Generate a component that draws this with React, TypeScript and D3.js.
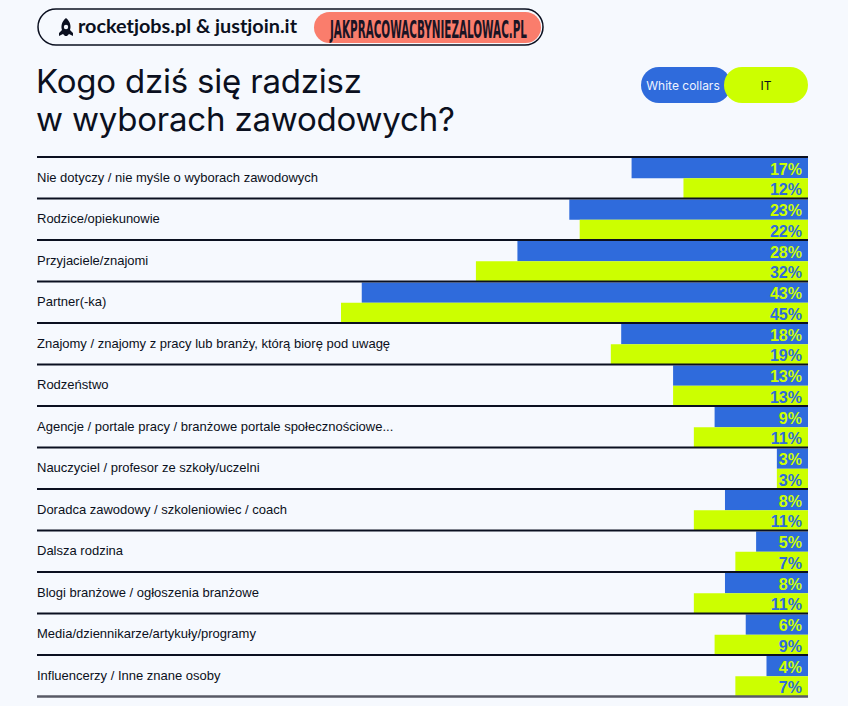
import React from "react";
import * as d3 from "d3";

const categories = [
  "Nie dotyczy / nie myśle o wyborach zawodowych",
  "Rodzice/opiekunowie",
  "Przyjaciele/znajomi",
  "Partner(-ka)",
  "Znajomy / znajomy z pracy lub branży, którą biorę pod uwagę",
  "Rodzeństwo",
  "Agencje / portale pracy / branżowe portale społecznościowe...",
  "Nauczyciel / profesor ze szkoły/uczelni",
  "Doradca zawodowy / szkoleniowiec / coach",
  "Dalsza rodzina",
  "Blogi branżowe / ogłoszenia branżowe",
  "Media/dziennikarze/artykuły/programy",
  "Influencerzy / Inne znane osoby",
];
const whiteCollars = [17, 23, 28, 43, 18, 13, 9, 3, 8, 5, 8, 6, 4];
const itValues = [12, 22, 32, 45, 19, 13, 11, 3, 11, 7, 11, 9, 7];
const seriesNames = ["White collars", "IT"];

const W = 848;
const H = 706;
const BG = "#f6f9fe";
const BLUE = "#2f6bdc";
const GREEN = "#ccff00";
const DARK = "#0b1020";

const left = 37;
const right = 808;
const top = 157;
const rowH = 41.5;

export default function App() {
  const x = d3.scaleLinear().domain([0, 45]).range([0, 467]);
  const y = d3
    .scaleBand<number>()
    .domain(d3.range(categories.length))
    .range([top, top + rowH * categories.length])
    .paddingInner(0)
    .paddingOuter(0);

  return (
    <svg
      width={W}
      height={H}
      style={{ position: "absolute", left: 0, top: 0, display: "block" }}
    >
      <rect width={W} height={H} fill={BG} />

      {/* Header pill */}
      <rect x={38} y={9} width={505} height={36} rx={18} fill="none" stroke={DARK} strokeWidth={1.5} />
      <g transform="translate(58,18)" fill={DARK}>
        <path d="M8 0 C3 4 3 9 4 12 L1 15 L1 18 L5 16 L7 18 L9 18 L11 16 L15 18 L15 15 L12 12 C13 9 13 4 8 0 Z" />
        <circle cx={8} cy={9} r={2.2} fill={BG} />
      </g>
      <text
        x={78}
        y={33}
        textLength={219}
        lengthAdjust="spacingAndGlyphs"
        fontFamily="Lato, 'Open Sans', sans-serif"
        fontWeight={700}
        fontSize={19}
        fill={DARK}
      >
        rocketjobs.pl &amp; justjoin.it
      </text>
      <rect x={314} y={12} width={227} height={31} rx={15.5} fill="#fa7d6c" />
      <text
        x={330}
        y={38}
        textLength={197}
        lengthAdjust="spacingAndGlyphs"
        fontFamily="'Liberation Sans Narrow', 'DejaVu Sans Condensed', sans-serif"
        fontWeight={700}
        fontSize={25}
        fill="#1a1424"
      >
        JAKPRACOWACBYNIEZALOWAC.PL
      </text>

      {/* Title */}
      <text fontFamily="Inter, sans-serif" fontSize={33} letterSpacing={-0.2} fill={DARK} x={36}>
        <tspan x={36} y={93}>Kogo dziś się radzisz</tspan>
        <tspan x={36} y={131}>w wyborach zawodowych?</tspan>
      </text>

      {/* Legend */}
      <rect x={641} y={67} width={90} height={36} rx={18} fill={BLUE} />
      <rect x={724} y={67} width={84} height={36} rx={18} fill={GREEN} />
      <text x={683} y={90} textAnchor="middle" fontFamily="Inter, sans-serif" fontSize={12} fill="#eef3ff">
        {seriesNames[0]}
      </text>
      <text x={766} y={90} textAnchor="middle" fontFamily="Inter, sans-serif" fontSize={12} fill={DARK}>
        {seriesNames[1]}
      </text>

      {/* Rows */}
      {categories.map((c, i) => {
        const y0 = y(i)!;
        const bw = y.bandwidth();
        const half = 1 + (bw - 1) / 2;
        const wv = whiteCollars[i];
        const iv = itValues[i];
        return (
          <g key={c}>
            <rect x={right - x(wv)} y={y0 + 1} width={x(wv)} height={half - 1} fill={BLUE} />
            <rect x={right - x(iv)} y={y0 + half} width={x(iv)} height={bw - half} fill={GREEN} />
            <text
              x={802}
              y={y0 + 17.5}
              textAnchor="end"
              fontFamily="'Liberation Sans', Arial, sans-serif"
              fontWeight={700}
              fontSize={16}
              fill={GREEN}
            >
              {wv}%
            </text>
            <text
              x={802}
              y={y0 + 38}
              textAnchor="end"
              fontFamily="'Liberation Sans', Arial, sans-serif"
              fontWeight={700}
              fontSize={16}
              fill={BLUE}
            >
              {iv}%
            </text>
            <text x={37} y={y0 + 24.5} fontFamily="'Liberation Sans', Arial, sans-serif" fontSize={13} fill={DARK}>
              {c}
            </text>
          </g>
        );
      })}

      {/* Row separators */}
      {d3.range(categories.length + 1).map((i) => {
        const yy = top + i * rowH;
        const last = i === categories.length;
        return (
          <line
            key={i}
            x1={left}
            x2={right}
            y1={yy}
            y2={yy}
            stroke={last ? "#585a66" : DARK}
            strokeWidth={last ? 2.5 : 2}
          />
        );
      })}
    </svg>
  );
}
